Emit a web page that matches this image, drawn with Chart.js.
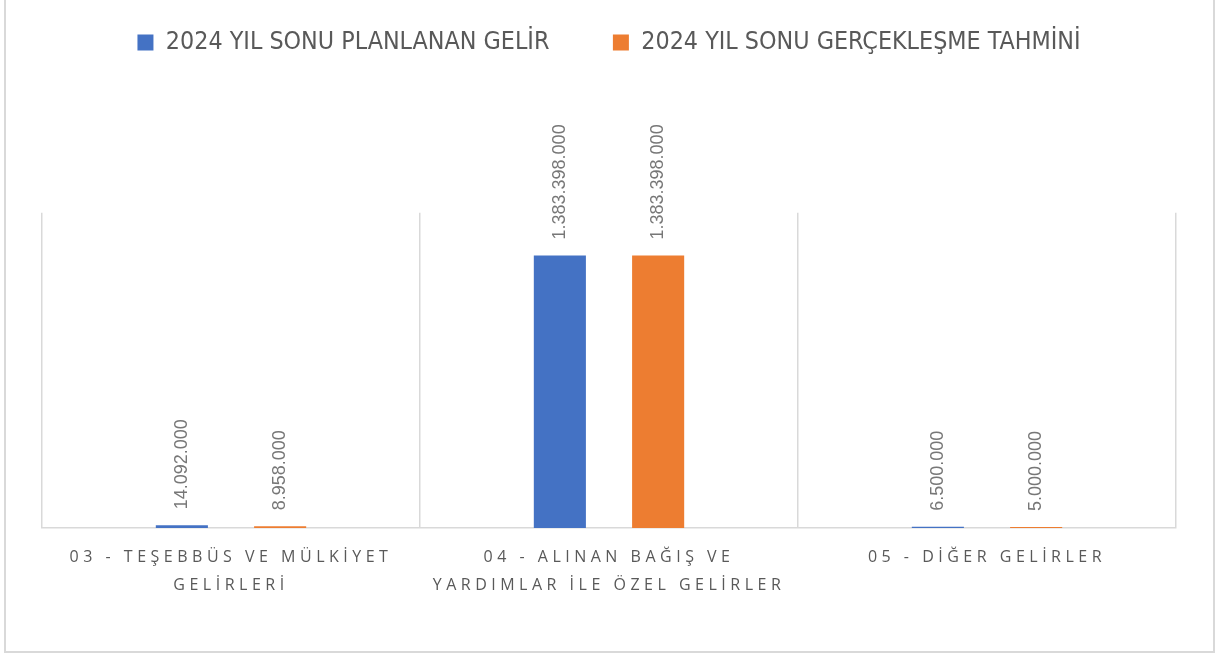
<!DOCTYPE html>
<html lang="tr">
<head>
<meta charset="UTF-8" />
<script src="https://cdn.jsdelivr.net/npm/chart.js@4.4.1/dist/chart.umd.min.js"></script>
<title>2024 Gelir</title>
<style>
  body { margin: 0; background: #fff; }
  #wrap { position: relative; width: 1216px; height: 655px; overflow: hidden; }
  #frame { position: absolute; left: 4px; top: -2px; width: 1211px; height: 655px; box-sizing: border-box; border: 2px solid #d9d9d9; }
  canvas { position: absolute; left: 0; top: 0; }
</style>
</head>
<body>
<div id="wrap">
  <div id="frame"></div>
  <canvas id="chart" width="1216" height="655"></canvas>
</div>
<script>
// data
const categories = [
  ["03 - TEŞEBBÜS VE MÜLKİYET", "GELİRLERİ"],
  ["04 - ALINAN BAĞIŞ VE", "YARDIMLAR İLE ÖZEL GELİRLER"],
  "05 - DİĞER GELİRLER"
];
const seriesNames = ["2024 YIL SONU PLANLANAN GELİR", "2024 YIL SONU GERÇEKLEŞME TAHMİNİ"];
const planned = [14092000, 1383398000, 6500000];
const estimate = [8958000, 1383398000, 5000000];
const yMax = 1600000000;

const BLUE = "#4472C4";
const ORANGE = "#ED7D31";
const GREY = "#595959";

function fmt(v) {
  return String(v).replace(/\B(?=(\d{3})+(?!\d))/g, ".");
}

// rotated value labels above each bar
const valueLabels = {
  id: "valueLabels",
  afterDatasetsDraw(chart) {
    const ctx = chart.ctx;
    ctx.save();
    ctx.font = '18px "Liberation Sans", Arial, sans-serif';
    ctx.fillStyle = "#777777";
    ctx.textAlign = "left";
    ctx.textBaseline = "middle";
    chart.data.datasets.forEach((ds, i) => {
      chart.getDatasetMeta(i).data.forEach((bar, j) => {
        ctx.save();
        ctx.translate(bar.x, bar.y - 16);
        ctx.rotate(-Math.PI / 2);
        ctx.fillText(fmt(ds.data[j]), 0, 0);
        ctx.restore();
      });
    });
    ctx.restore();
  }
};

// extra room under the legend + letter spacing on category labels
const tweaks = {
  id: "tweaks",
  beforeInit(chart) {
    const fit = chart.legend.fit;
    chart.legend.fit = function () {
      fit.call(this);
      this.height += 148;
    };
  },
  beforeDraw(chart) {
    const sx = chart.scales.x;
    if (sx && !sx._spaced) {
      const orig = sx.drawLabels;
      sx.drawLabels = function (area) {
        this.ctx.save();
        this.ctx.letterSpacing = "4.5px";
        orig.call(this, area);
        this.ctx.restore();
      };
      sx._spaced = true;
    }
  }
};

const ctx = document.getElementById("chart").getContext("2d");
new Chart(ctx, {
  type: "bar",
  data: {
    labels: categories,
    datasets: [
      { label: seriesNames[0], data: planned, backgroundColor: BLUE },
      { label: seriesNames[1], data: estimate, backgroundColor: ORANGE }
    ]
  },
  options: {
    responsive: false,
    animation: false,
    datasets: { bar: { categoryPercentage: 0.52, barPercentage: 0.53 } },
    layout: { padding: { left: 42, right: 40, top: 0, bottom: 41 } },
    plugins: {
      tooltip: { enabled: false },
      legend: {
        position: "top",
        labels: {
          color: GREY,
          font: { family: '"DejaVu Sans Condensed", sans-serif', size: 24.8 },
          boxWidth: 16,
          boxHeight: 16,
          padding: 30,
          generateLabels(chart) {
            const items = Chart.defaults.plugins.legend.labels.generateLabels(chart);
            items[0].text = items[0].text + "\u2002".repeat(3);
            return items;
          }
        }
      }
    },
    scales: {
      x: {
        grid: { offset: true, color: "#d9d9d9", lineWidth: 1.5, drawTicks: false },
        border: { color: "#d9d9d9", width: 1.5 },
        ticks: {
          color: GREY,
          font: { family: '"Open Sans", sans-serif', size: 16, lineHeight: 1.75 },
          padding: 15,
          autoSkip: false,
          maxRotation: 0
        }
      },
      y: { display: false, min: 0, max: yMax }
    }
  },
  plugins: [valueLabels, tweaks]
});
</script>
</body>
</html>
